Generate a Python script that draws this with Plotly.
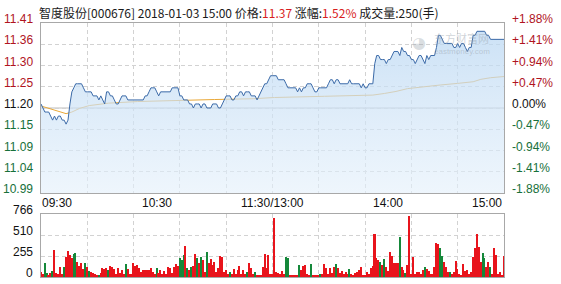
import plotly.graph_objects as go

# ---------------- data ----------------
stock_name = "智度股份"
stock_code = "000676"
quote_time = "2018-01-03 15:00"
last_price = "11.37"
change_pct = "1.52%"
last_volume = "250"
prev_close = 11.20

price = [
    11.21, 11.20, 11.19, 11.19, 11.19, 11.18, 11.17, 11.18, 11.17, 11.18,
    11.18, 11.17, 11.17, 11.16, 11.17, 11.21, 11.24, 11.25, 11.26, 11.26,
    11.26, 11.26, 11.25, 11.24, 11.24, 11.24, 11.24, 11.23, 11.23, 11.23,
    11.22, 11.23, 11.22, 11.21, 11.24, 11.24, 11.23, 11.23, 11.22, 11.21,
    11.21, 11.22, 11.23, 11.23, 11.23, 11.22, 11.22, 11.22, 11.22, 11.22,
    11.22, 11.22, 11.22, 11.22, 11.23, 11.23, 11.24, 11.25, 11.25, 11.25,
    11.24, 11.23, 11.24, 11.24, 11.24, 11.24, 11.24, 11.24, 11.25, 11.25,
    11.25, 11.25, 11.23, 11.23, 11.22, 11.22, 11.22, 11.21, 11.21, 11.20,
    11.21, 11.21, 11.21, 11.20, 11.21, 11.21, 11.20, 11.20, 11.20, 11.21,
    11.21, 11.21, 11.20, 11.20, 11.21, 11.22, 11.23, 11.23, 11.23, 11.22,
    11.22, 11.23, 11.23, 11.24, 11.24, 11.23, 11.24, 11.24, 11.24, 11.23,
    11.23, 11.23, 11.22, 11.23, 11.24, 11.25, 11.26, 11.26, 11.27, 11.28,
    11.28, 11.28, 11.28, 11.27, 11.27, 11.27, 11.27, 11.26, 11.25, 11.25,
    11.25, 11.25, 11.25, 11.24, 11.25, 11.24, 11.25, 11.25, 11.26, 11.26,
    11.26, 11.25, 11.24, 11.24, 11.25, 11.25, 11.25, 11.25, 11.25, 11.26,
    11.27, 11.27, 11.26, 11.27, 11.27, 11.26, 11.26, 11.26, 11.26, 11.26,
    11.27, 11.26, 11.26, 11.26, 11.26, 11.26, 11.25, 11.26, 11.25, 11.25,
    11.26, 11.26, 11.26, 11.31, 11.33, 11.33, 11.32, 11.32, 11.32, 11.31,
    11.32, 11.32, 11.33, 11.34, 11.34, 11.34, 11.33, 11.35, 11.34, 11.34,
    11.33, 11.33, 11.32, 11.32, 11.31, 11.32, 11.33, 11.33, 11.32, 11.31,
    11.33, 11.32, 11.33, 11.33, 11.33, 11.35, 11.38, 11.38, 11.37, 11.36,
    11.36, 11.36, 11.36, 11.36, 11.35, 11.35, 11.36, 11.35, 11.36, 11.36,
    11.35, 11.34, 11.35, 11.35, 11.38, 11.38, 11.39, 11.39, 11.39, 11.39,
    11.39, 11.38, 11.38, 11.37, 11.37, 11.37, 11.37, 11.37, 11.37, 11.37,
    11.37,
]

avg_minutes = [0, 5, 10, 13, 16, 20, 25, 35, 50, 70, 90, 110, 121, 147,
               172, 178, 184, 190, 198, 207, 216, 224, 228, 233, 240]
avg_values = [11.205, 11.197, 11.190, 11.186, 11.190, 11.199, 11.206, 11.212,
              11.216, 11.219, 11.221, 11.223, 11.226, 11.229, 11.232, 11.236,
              11.241, 11.248, 11.253, 11.257, 11.261, 11.265, 11.271, 11.275,
              11.278]

volume = [
    60, 40, 170, 50, 30, 45, 70, 328, 45, 40,
    126, 35, 126, 247, 316, 267, 227, 280, 288, 186,
    138, 166, 97, 166, 126, 73, 65, 45, 35, 24,
    30, 45, 113, 97, 113, 85, 138, 126, 97, 40,
    105, 50, 85, 40, 154, 97, 40, 35, 166, 138,
    146, 113, 60, 85, 85, 80, 85, 113, 60, 40,
    113, 50, 85, 40, 73, 35, 126, 113, 50, 126,
    154, 138, 227, 207, 267, 380, 113, 85, 126, 138,
    275, 227, 166, 247, 207, 60, 308, 166, 219, 146,
    186, 60, 105, 259, 247, 60, 85, 40, 65, 40,
    97, 40, 85, 134, 40, 85, 40, 65, 174, 113,
    40, 65, 30, 24, 30, 126, 275, 113, 267, 40,
    35, 714, 57, 45, 40, 73, 40, 247, 235, 30,
    24, 30, 24, 30, 146, 85, 138, 146, 40, 30,
    154, 30, 24, 30, 24, 32, 32, 158, 113, 40,
    113, 45, 126, 162, 105, 50, 73, 40, 57, 40,
    97, 40, 30, 45, 57, 85, 126, 30, 30, 57,
    40, 113, 138, 518, 227, 207, 178, 146, 219, 126,
    73, 308, 255, 166, 174, 166, 490, 126, 85, 45,
    146, 745, 40, 247, 40, 57, 57, 40, 85, 126,
    97, 73, 40, 40, 126, 409, 397, 348, 259, 186,
    126, 57, 65, 40, 65, 194, 97, 40, 30, 154,
    73, 85, 40, 57, 247, 348, 518, 368, 186, 288,
    235, 126, 186, 126, 40, 348, 267, 40, 65, 30,
    250,
]

# 'r' = up (red), 'g' = down (green)
direction = (
    "rrggrrgrrr" "rrgrrrrggr" "rrrgrgrrrr" "grrrrgrrrr" "rrrrgrrrrr"
    "rrrrrrrrrr" "grrrrrrrrr" "rrgggrgrgr" "rgrgrrgrrr" "rrrrrrrrgr"
    "rrrrrrrgrr" "rgrrrrrrrr" "rrrrrrrggr" "rrrrgrrrrr" "grrrrgrrrr"
    "rrrgrrrrrr" "grrrrrrrrr" "rrrrrrgrgr" "rrrrrrgrrg" "rrrrrrrrrg"
    "rrrrrrrggr" "rrgrrrrrrr" "rrrrrrrrrg" "grrgrrrrrr" "r"
)

time_ticks = [0, 60, 120, 180, 240]
time_labels = ["09:30", "10:30", "11:30/13:00", "14:00", "15:00"]
pct_levels = [1.88, 1.41, 0.94, 0.47, 0.00, -0.47, -0.94, -1.41, -1.88]
left_labels = ["11.41", "11.36", "11.30", "11.25", "11.20", "11.15", "11.09", "11.04", "10.99"]
right_labels = ["+1.88%", "+1.41%", "+0.94%", "+0.47%", "0.00%", "-0.47%", "-0.94%", "-1.41%", "-1.88%"]
vol_max = 766
vol_labels = ["766", "510", "255", "0"]

assert len(price) == 241 and len(volume) == 241 and len(direction) == 241

# ---------------- layout geometry ----------------
W, H = 561, 284
L, R = 41, 57
main_top, main_bot = 23, 193
vol_top, vol_bot = 214, 277

minutes = list(range(len(price)))
y_hi = prev_close * (1 + pct_levels[0] / 100)
y_lo = prev_close * (1 + pct_levels[-1] / 100)
y_ticks = [prev_close * (1 + p / 100) for p in pct_levels]
vol_ticks = [vol_max * k / 3 for k in (3, 2, 1, 0)]

RED = "#e8141c"
GREEN = "#15883a"
LBL_RED = "#b0141e"
LBL_GREEN = "#17703a"
NUMFONT = "Arial, Liberation Sans, sans-serif"
GRID = "#d2d2d2"
BORDER = "#a8a8a8"

fig = go.Figure()

fig.add_trace(go.Scatter(
    x=avg_minutes, y=avg_values, mode="lines",
    line=dict(color="#e9a838", width=1), hoverinfo="skip",
    xaxis="x", yaxis="y"))

fig.add_trace(go.Scatter(
    x=minutes, y=price, mode="lines",
    line=dict(color="#3b6aa8", width=1),
    fill="tozeroy",
    fillgradient=dict(type="vertical",
                      colorscale=[[0, "rgba(228,240,251,0.62)"],
                                  [1, "rgba(184,214,242,0.74)"]],
                      start=y_lo, stop=y_hi),
    hoverinfo="skip", xaxis="x", yaxis="y"))

fig.add_trace(go.Bar(
    x=minutes, y=volume,
    marker=dict(color=[RED if d == "r" else GREEN for d in direction], line_width=0),
    width=0.78, hoverinfo="skip", xaxis="x2", yaxis="y2"))

axis_common = dict(showline=True, mirror=True, linecolor=BORDER, linewidth=1,
                   zeroline=False, ticks="", showticklabels=False,
                   showgrid=True, gridcolor=GRID, gridwidth=1, griddash="4px,3px")

fig.update_layout(
    width=W, height=H,
    margin=dict(l=L, r=R, t=0, b=0),
    paper_bgcolor="white", plot_bgcolor="white",
    showlegend=False, bargap=0,
    xaxis=dict(domain=[0, 1], range=[0, 240], tickvals=list(range(0, 241, 24)),
               anchor="y", **axis_common),
    yaxis=dict(domain=[(H - main_bot) / H, (H - main_top) / H], range=[y_lo, y_hi],
               tickvals=y_ticks, anchor="x", **axis_common),
    xaxis2=dict(domain=[0, 1], range=[0, 240], tickvals=list(range(0, 241, 24)),
                anchor="y2", **axis_common),
    yaxis2=dict(domain=[(H - vol_bot) / H, (H - vol_top) / H], range=[0, vol_max],
                tickvals=vol_ticks, anchor="x2", **axis_common),
)

# solid zero-change line
fig.add_shape(type="line", xref="paper", x0=0, x1=1, yref="y", y0=prev_close, y1=prev_close,
              line=dict(color="#bdbdbd", width=1), layer="below")

ann = []
for v, lt, rt, p in zip(y_ticks, left_labels, right_labels, pct_levels):
    col = LBL_RED if p > 0 else (LBL_GREEN if p < 0 else "#111111")
    ann.append(dict(xref="paper", yref="y", x=0, y=v, text=lt, showarrow=False,
                    xanchor="right", yanchor="middle", xshift=-6, yshift=4,
                    font=dict(family=NUMFONT, size=12, color=col)))
    ann.append(dict(xref="paper", yref="y", x=1, y=v, text=rt, showarrow=False,
                    xanchor="left", yanchor="middle", xshift=6, yshift=4,
                    font=dict(family=NUMFONT, size=12, color=col)))
for v, t in zip(vol_ticks, vol_labels):
    ann.append(dict(xref="paper", yref="y2", x=0, y=v, text=t, showarrow=False,
                    xanchor="right", yanchor="middle", xshift=-6, yshift=4,
                    font=dict(family=NUMFONT, size=12, color="#111111")))
anchors = ["left", "center", "center", "center", "right"]
for m, t, a in zip(time_ticks, time_labels, anchors):
    ann.append(dict(xref="x", yref="paper", x=m, y=(H - 202.5) / H, text=t, showarrow=False,
                    xanchor=a, yanchor="middle", xshift=(-1 if a == "left" else 0),
                    font=dict(family=NUMFONT, size=12, color="#111111")))

title = (f"{stock_name}[{stock_code}] {quote_time} 价格:<span style='color:#d81e1e'>{last_price}</span>"
         f" 涨幅:<span style='color:#d81e1e'>{change_pct}</span> 成交量:{last_volume}(手)")
ann.append(dict(xref="paper", yref="paper", x=0, y=(H - 12.5) / H, text=title, showarrow=False,
                xanchor="left", yanchor="middle", xshift=-4,
                font=dict(family="Noto Sans CJK SC, sans-serif", size=12, color="#1a1a1a")))

# watermark
ann.append(dict(xref="paper", yref="paper", x=(461 - L) / (W - L - R), y=(H - 37.5) / H,
                text="东方财富网", showarrow=False, xanchor="center", yanchor="middle",
                font=dict(family="Noto Sans CJK SC, sans-serif", size=11,
                          color="rgba(150,160,170,0.45)")))
ann.append(dict(xref="paper", yref="paper", x=(462 - L) / (W - L - R), y=(H - 52) / H,
                text="eastmoney.com", showarrow=False, xanchor="center", yanchor="middle",
                font=dict(family=NUMFONT, size=8, color="rgba(150,160,170,0.45)")))
ann.append(dict(xref="paper", yref="paper", x=(419 - L) / (W - L - R), y=(H - 42) / H,
                text="◕", showarrow=False, xanchor="center", yanchor="middle",
                font=dict(family="DejaVu Sans", size=16, color="rgba(150,160,170,0.35)")))

fig.update_layout(annotations=ann)

fig.write_html("out.html")
